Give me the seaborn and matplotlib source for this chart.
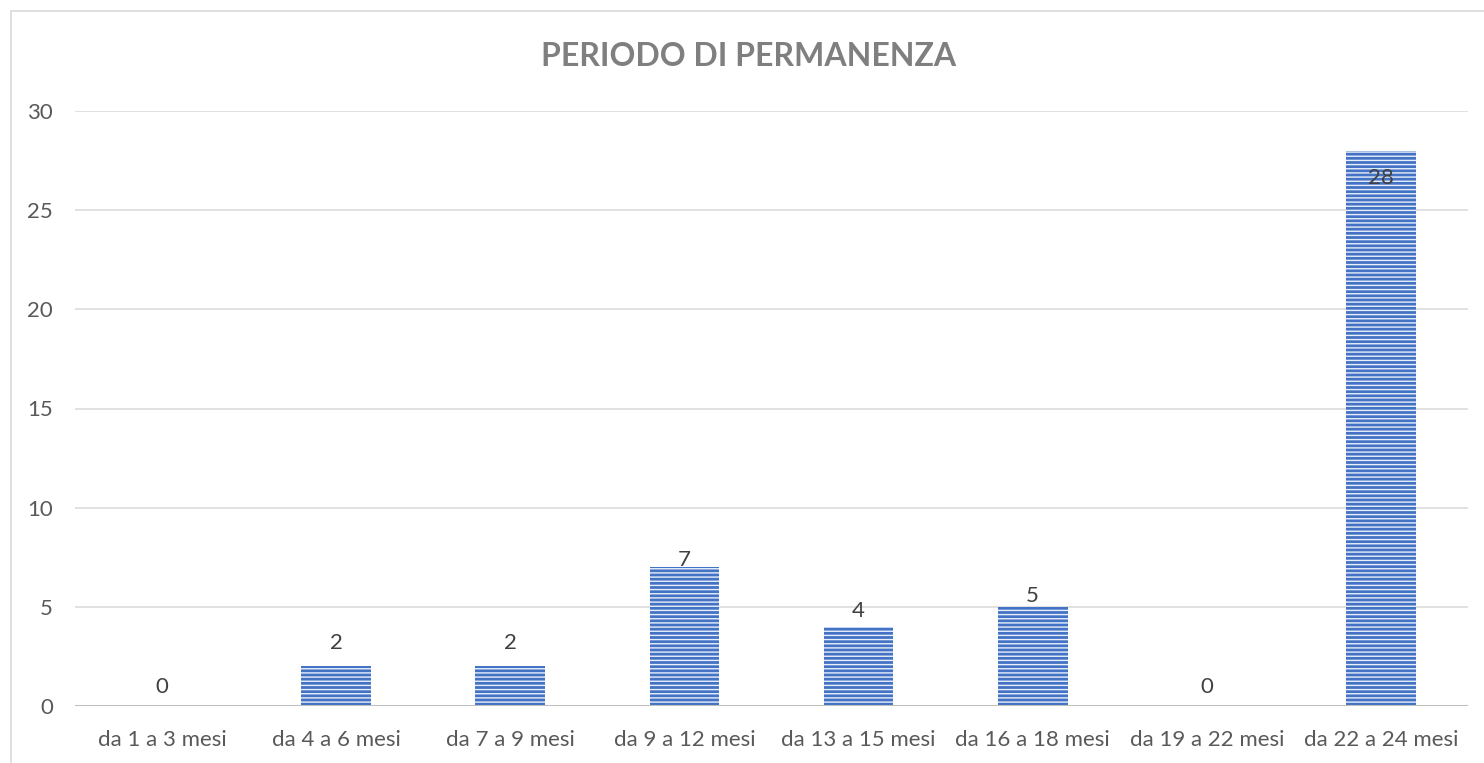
import numpy as np
import pandas as pd
import matplotlib
matplotlib.use("Agg")
import matplotlib.pyplot as plt
import seaborn as sns
from matplotlib.patches import Rectangle

# data
periodi = ['da 1 a 3 mesi', 'da 4 a 6 mesi', 'da 7 a 9 mesi', 'da 9 a 12 mesi',
           'da 13 a 15 mesi', 'da 16 a 18 mesi', 'da 19 a 22 mesi', 'da 22 a 24 mesi']
valori = [0, 2, 2, 7, 4, 5, 0, 28]
# Excel-style label offsets (points above the bar top)
label_offsets = [14, 17, 17, 5, 11, 8, 14, -20]

df = pd.DataFrame({'periodo': periodi, 'valore': valori})

sns.set_style("white")
plt.rcParams['font.family'] = ['Lato', 'DejaVu Sans']
plt.rcParams['hatch.linewidth'] = 1.0

fig = plt.figure(figsize=(14.84, 7.63), dpi=100)
ax = fig.add_axes([75 / 1484, 1 - 706 / 763, (1468 - 75) / 1484, (706 - 111) / 763])

sns.barplot(data=df, x='periodo', y='valore', color='#4472C4', width=0.4,
            saturation=1, ax=ax, zorder=3)
for bar in ax.patches:
    bar.set_hatch('----')
    bar.set_edgecolor('#EAF0FA')
    bar.set_linewidth(0)

ax.set_ylim(0, 30)
ax.set_yticks(np.arange(0, 31, 5))
ax.set_xlim(-0.5, len(periodi) - 0.5)
ax.yaxis.grid(True, color='#D9D9D9', linewidth=1.1, zorder=0)
ax.set_axisbelow(True)
ax.axhline(0, color='#BFBFBF', linewidth=2.2, zorder=4)
for side in ['top', 'right', 'left', 'bottom']:
    ax.spines[side].set_visible(False)

ax.set_xlabel('')
ax.set_ylabel('')
ax.tick_params(axis='both', length=0, labelsize=16, labelcolor='#595959')
ax.tick_params(axis='y', pad=16)
ax.tick_params(axis='x', pad=17)

for i, (v, off) in enumerate(zip(valori, label_offsets)):
    ax.annotate(str(v), (i, v), xytext=(0, off), textcoords='offset points',
                ha='center', va='center', fontsize=16, color='#404040', zorder=5)

fig.text(0.5045, 1 - 57 / 763, 'PERIODO DI PERMANENZA', ha='center', va='center',
         fontsize=23, fontweight='bold', color='#7F7F7F')

# outer chart border (cut off on the right and bottom)
fig.patches.append(Rectangle((11 / 1484, -0.1), 1.2, 1.1 - 11 / 763,
                             transform=fig.transFigure, fill=False,
                             edgecolor='#D9D9D9', linewidth=1.2))

fig.savefig('out.png', dpi=100)
